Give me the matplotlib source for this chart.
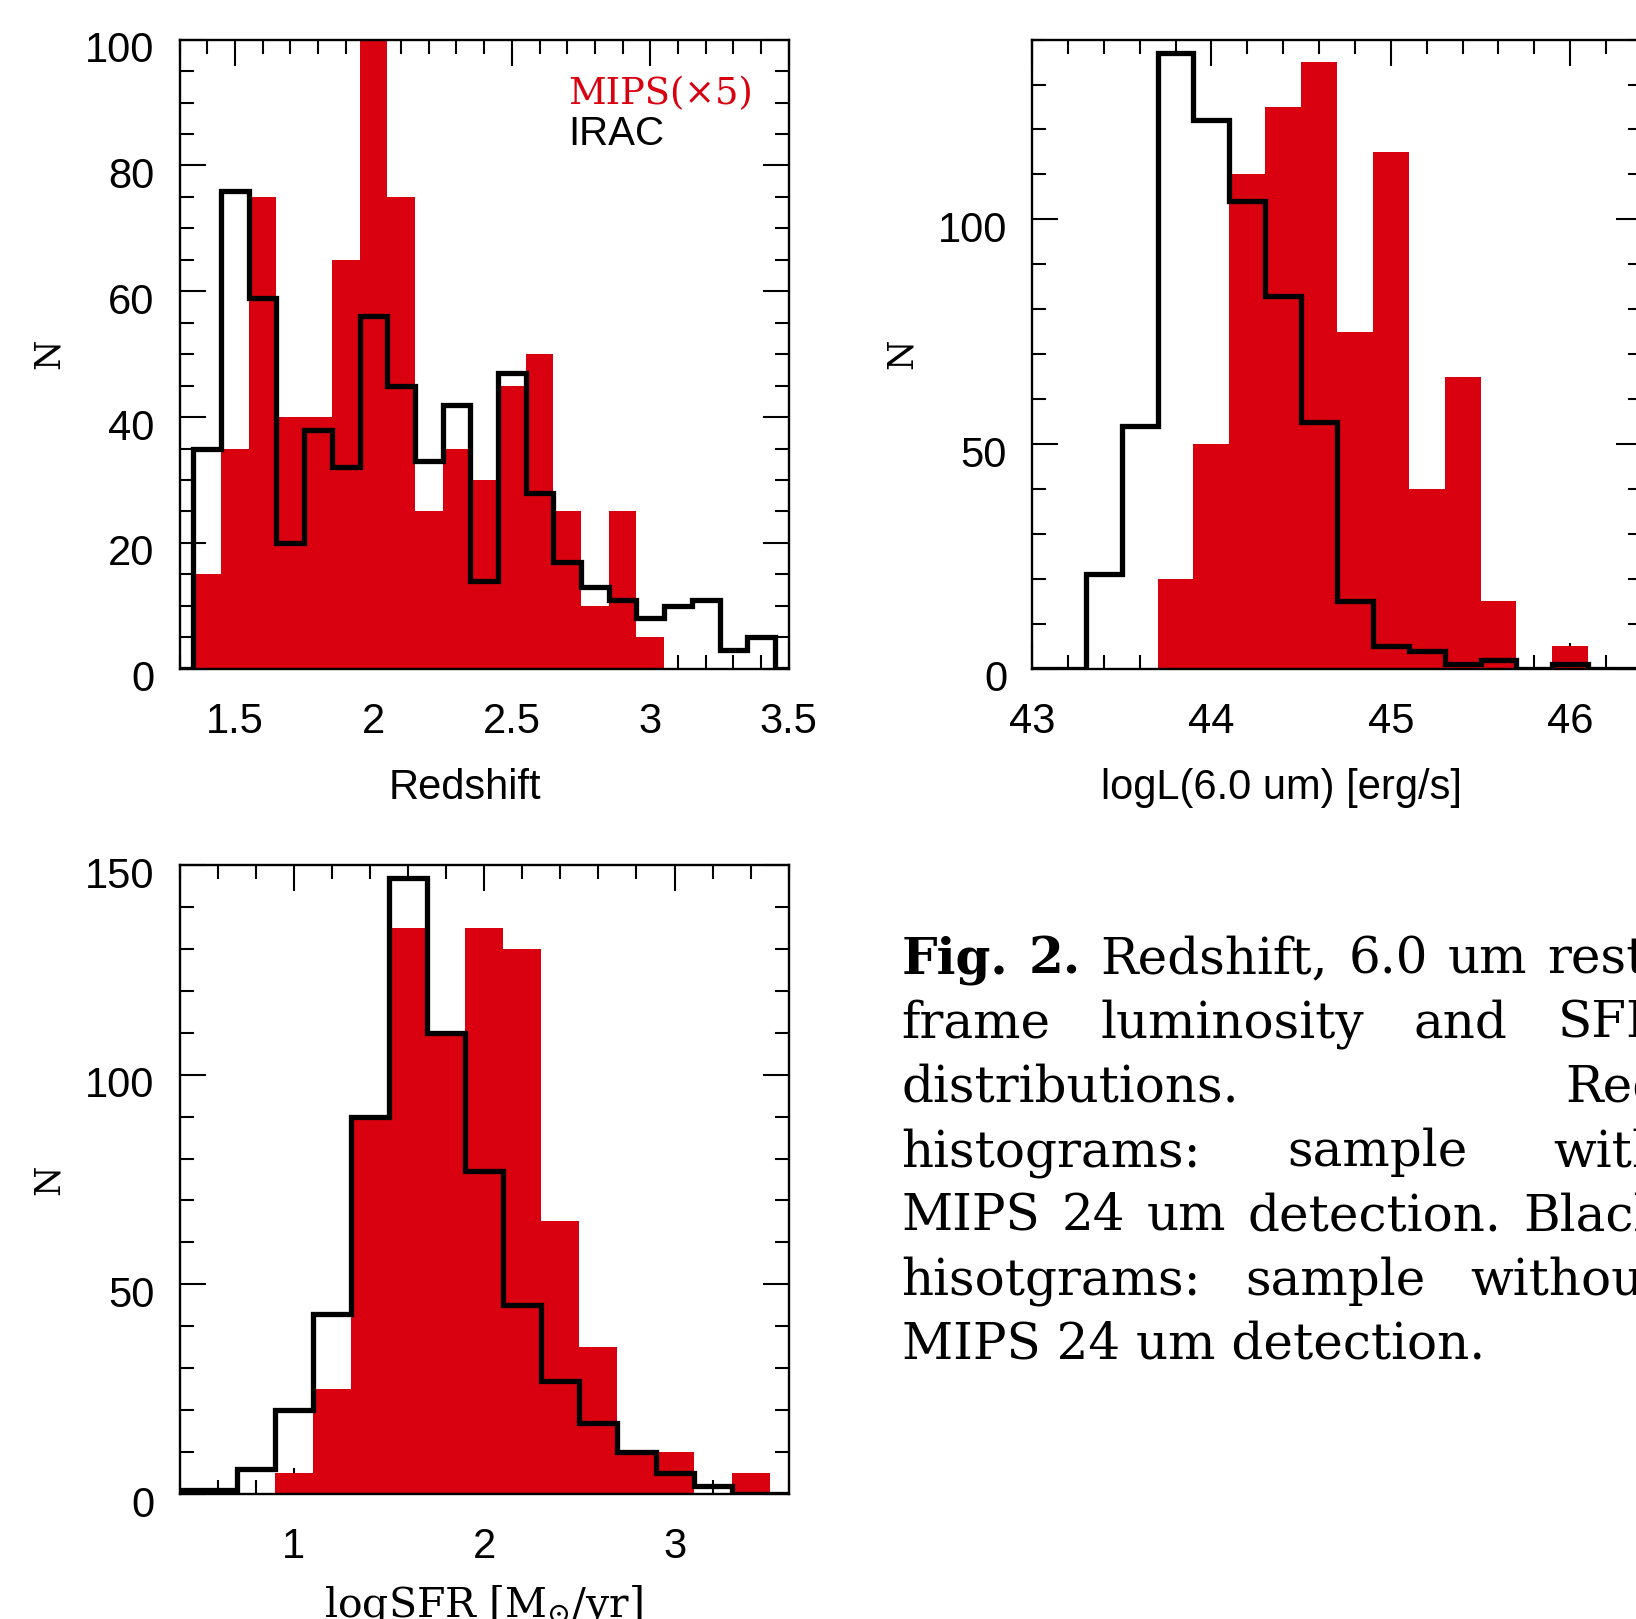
import matplotlib
matplotlib.use("Agg")
import matplotlib.pyplot as plt
import matplotlib.transforms as mtransforms
from matplotlib.ticker import MultipleLocator, FormatStrFormatter

plt.rcParams["font.family"] = "Liberation Sans"
plt.rcParams["mathtext.fontset"] = "dejavuserif"

RED = "#d9000f"
SERIF = "DejaVu Serif"

# redshift (bin width 0.1)
Z_EDGES = [1.25, 1.35, 1.45, 1.55, 1.65, 1.75, 1.85, 1.95, 2.05, 2.15, 2.25, 2.35,
           2.45, 2.55, 2.65, 2.75, 2.85, 2.95, 3.05, 3.15, 3.25, 3.35, 3.45, 3.55]
MIPS_Z = [0, 15, 35, 75, 40, 40, 65, 100, 75, 25, 35, 30, 45, 50, 25, 10, 25, 5, 0, 0, 0, 0, 0]
IRAC_Z = [0, 35, 76, 59, 20, 38, 32, 56, 45, 33, 42, 14, 47, 28, 17, 13, 11, 8, 10, 11, 3, 5, 0]

# logL(6 um) (bin width 0.2)
L_EDGES = [42.9, 43.1, 43.3, 43.5, 43.7, 43.9, 44.1, 44.3, 44.5, 44.7, 44.9, 45.1,
           45.3, 45.5, 45.7, 45.9, 46.1, 46.3, 46.5]
MIPS_L = [0, 0, 0, 0, 20, 50, 110, 125, 135, 75, 115, 40, 65, 15, 0, 5, 0, 0]
IRAC_L = [0, 0, 21, 54, 137, 122, 104, 83, 55, 15, 5, 4, 1, 2, 0, 1, 0, 0]

# logSFR (bin width 0.2)
S_EDGES = [0.3, 0.5, 0.7, 0.9, 1.1, 1.3, 1.5, 1.7, 1.9, 2.1, 2.3, 2.5, 2.7, 2.9,
           3.1, 3.3, 3.5, 3.7]
MIPS_S = [0, 0, 0, 5, 25, 90, 135, 110, 135, 130, 65, 35, 10, 10, 0, 5, 0]
IRAC_S = [1, 1, 6, 20, 43, 90, 147, 110, 77, 45, 27, 17, 10, 5, 2, 0, 0]

CAPTION = [
    ["Fig.", "2.", "Redshift,", "6.0", "um", "rest-"],
    ["frame", "luminosity", "and", "SFR"],
    ["distributions.", "Red"],
    ["histograms:", "sample", "with"],
    ["MIPS", "24", "um", "detection.", "Black"],
    ["hisotgrams:", "sample", "without"],
]
CAPTION_LAST = "MIPS 24 um detection."

W, H = 1636, 1619
fig = plt.figure(figsize=(W / 100, H / 100), dpi=100)


def panel(rect, edges, mips, irac, xlim, ylim, xmaj, xmin, ymaj, ymin):
    ax = fig.add_axes(rect)
    ax.stairs(mips, edges, fill=True, color=RED, lw=0, zorder=1)
    ax.stairs(irac, edges, color="black", lw=3.8, zorder=3, baseline=0)
    ax.set_xlim(*xlim)
    ax.set_ylim(*ylim)
    ax.xaxis.set_major_locator(MultipleLocator(xmaj))
    ax.xaxis.set_minor_locator(MultipleLocator(xmin))
    ax.xaxis.set_major_formatter(FormatStrFormatter("%g"))
    ax.yaxis.set_major_locator(MultipleLocator(ymaj))
    ax.yaxis.set_minor_locator(MultipleLocator(ymin))
    ax.tick_params(which="both", direction="in", top=True, right=True,
                   width=1.5, labelsize=30)
    ax.tick_params(which="major", length=19)
    ax.tick_params(which="minor", length=10)
    ax.tick_params(axis="x", pad=24)
    ax.tick_params(axis="y", pad=18)
    ax.set_axisbelow(True)
    for s in ax.spines.values():
        s.set_linewidth(1.7)
    ax.set_ylabel("N", family=SERIF, fontsize=25, va="center")
    ax.yaxis.set_label_coords(-0.214, 0.5)
    return ax


ax1 = panel([179.5 / W, 1 - 668.8 / H, 609.3 / W, 629.2 / H], Z_EDGES, MIPS_Z, IRAC_Z,
            (1.3, 3.5), (0, 100), 0.5, 0.1, 20, 5)
ax1.set_xlabel("Redshift", fontsize=30, va="center")
ax1.xaxis.set_label_coords(0.469, -0.19)
ax1.text(0.638, 0.913, "MIPS(\u00d75)", transform=ax1.transAxes, color=RED,
         family=SERIF, fontsize=26.5, va="center", ha="left")
ax1.text(0.638, 0.850, "IRAC", transform=ax1.transAxes, color="black",
         fontsize=29, va="center", ha="left")

ax2 = panel([1032 / W, 1 - 668.8 / H, 610 / W, 629.2 / H], L_EDGES, MIPS_L, IRAC_L,
            (43, 46.4), (0, 140), 1, 0.2, 50, 10)
ax2.set_xlabel("logL(6.0 um) [erg/s]", fontsize=30, va="center")
ax2.xaxis.set_label_coords(0.409, -0.19)

ax3 = panel([179.5 / W, 1 - 1494 / H, 609.3 / W, 629 / H], S_EDGES, MIPS_S, IRAC_S,
            (0.4, 3.6), (0, 150), 1, 0.2, 50, 10)
ax3.set_xlabel(r"logSFR [M$_{\odot}$/yr]", family=SERIF, fontsize=29.5, va="baseline")
ax3.xaxis.set_label_coords(0.499, -0.194)

# IDL-like: y tick labels sit a little below their ticks
shift = mtransforms.ScaledTranslation(0, -7 / 100, fig.dpi_scale_trans)
for ax in (ax1, ax2, ax3):
    for lab in ax.get_yticklabels():
        lab.set_transform(lab.get_transform() + shift)

# justified caption, running off the right edge as in the source page
renderer = fig.canvas.get_renderer()
x_left, x_right = 901.5, 1664.0
base0, lead = 973.5, 64.2
for i, words in enumerate(CAPTION):
    y = 1 - (base0 + i * lead) / H
    texts = []
    for j, w in enumerate(words):
        bold = (i == 0 and j < 2)
        t = fig.text(0, y, w, family=SERIF, fontsize=36, va="baseline", ha="left",
                     fontweight="bold" if bold else "normal")
        texts.append(t)
    widths = [t.get_window_extent(renderer).width for t in texts]
    gap = (x_right - x_left - sum(widths)) / (len(words) - 1)
    x = x_left
    for t, wd in zip(texts, widths):
        t.set_x(x / W)
        x += wd + gap
fig.text(x_left / W, 1 - (base0 + 6 * lead) / H, CAPTION_LAST, family=SERIF,
         fontsize=36, va="baseline", ha="left")

fig.savefig("out.png", dpi=100)
